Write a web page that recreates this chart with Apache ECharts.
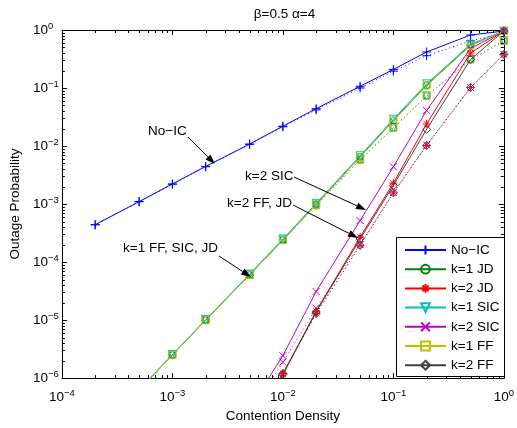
<!DOCTYPE html>
<html><head><meta charset="utf-8">
<script src="https://cdn.jsdelivr.net/npm/echarts@6/dist/echarts.min.js"></script>
<style>html,body{margin:0;padding:0;background:#fff}#c{width:517px;height:428px}</style>
</head><body><div id="c"></div>
<script>
// ---- data ----
const density = [2e-4, 5e-4, 1e-3, 2e-3, 5e-3, 1e-2, 2e-2, 5e-2, 0.1, 0.2, 0.5, 1];
const noIC        = [4.4e-4, 1.1e-3, 2.22e-3, 4.45e-3, 1.08e-2, 2.2e-2, 4.4e-2, 0.107, 0.209, 0.418, 0.82, 0.96];
const noICApprox  = [4.4e-4, 1.1e-3, 2.2e-3, 4.4e-3, 1.07e-2, 2.15e-2, 4.2e-2, 0.10, 0.195, 0.36, 0.65, 0.89];
const k1JD        = [null, 6.2e-7, 2.5e-6, 1.0e-5, 6.0e-5, 2.4e-4, 9.9e-4, 6.5e-3, 0.0276, 0.112, 0.55, 0.96];
const k1SIC       = [null, 6.4e-7, 2.55e-6, 1.02e-5, 6.2e-5, 2.5e-4, 1.03e-3, 6.8e-3, 0.029, 0.118, 0.57, 0.96];
const k1FF        = [null, 6.2e-7, 2.5e-6, 1.0e-5, 6.0e-5, 2.4e-4, 9.8e-4, 6.4e-3, 0.027, 0.11, 0.54, 0.96];
const k1Approx    = [null, 6.2e-7, 2.5e-6, 1.0e-5, 6.0e-5, 2.4e-4, 9.5e-4, 5.8e-3, 0.0205, 0.073, 0.31, 0.65];
const k2JD        = [null, null, null, null, 1.5e-7, 1.19e-6, 1.42e-5, 2.7e-4, 2.3e-3, 0.024, 0.40, 0.96];
const k2SIC       = [null, null, null, null, 3.0e-7, 2.44e-6, 3.1e-5, 5.2e-4, 4.4e-3, 0.041, 0.48, 0.96];
const k2FF        = [null, null, null, null, 1.4e-7, 1.15e-6, 1.38e-5, 2.5e-4, 2.1e-3, 0.0194, 0.31, 0.96];
const k2Approx    = [null, null, null, null, 1.5e-7, 1.2e-6, 1.3e-5, 1.94e-4, 1.56e-3, 0.0102, 0.102, 0.38];
const k2SICApprox = [null, null, null, null, 2.4e-7, 1.88e-6, 1.6e-5, 2.0e-4, 1.58e-3, 0.0104, 0.102, 0.38];
const legendNames = ['No\u2212IC', 'k=1 JD', 'k=2 JD', 'k=1 SIC', 'k=2 SIC', 'k=1 FF', 'k=2 FF'];
const titleText = '\u03b2=0.5 \u03b1=4';
const xName = 'Contention Density';
const yName = 'Outage Probability';

// ---- styling ----
const FONT = '"Liberation Sans", Arial, Helvetica, sans-serif';
const C = {blue:'#0000ff', green:'#008000', red:'#ff0000', cyan:'#00bfbf', mag:'#bf00bf', yel:'#bfbf00', gray:'#404040'};
const SYM = {
  plus:'path://M0,5L10,5M5,0L5,10',
  cross:'path://M0,0L10,10M10,0L0,10',
  star:'path://M0,5L10,5M5,0L5,10M1.6,1.6L8.4,8.4M8.4,1.6L1.6,8.4'
};

function pairs(ys){ const out=[]; ys.forEach((y,i)=>{ if(y!=null) out.push([density[i], y]); }); return out; }
function mk(name, ys, color, sym, size, dotted, rotate){
  return {type:'line', name:name, data:pairs(ys), symbol:sym, symbolSize:size, symbolRotate:rotate||0,
    showSymbol:true, lineStyle:{color:color, width:1, type: dotted ? [1,3] : 'solid'},
    itemStyle:{color:'rgba(0,0,0,0)', borderColor:color, borderWidth:1},
    emphasis:{disabled:true}, silent:true, clip:true, z: dotted ? 2 : 3};
}

const minorX = [], minorY = [];
for (let d=-4; d<0; d++) for (let m=2; m<=9; m++) minorX.push(m*Math.pow(10,d));
for (let d=-6; d<0; d++) for (let m=2; m<=9; m++) minorY.push(m*Math.pow(10,d));

function supLabel(v){
  const e = Math.round(Math.log10(v));
  return '{b|10}{e|' + String(e).replace('-', '\u2212') + '}';
}
const rich = {
  b:{fontSize:13.5, fontFamily:FONT, color:'#000', lineHeight:18, verticalAlign:'middle'},
  e:{fontSize:9.5, fontFamily:FONT, color:'#000', lineHeight:8, verticalAlign:'top'}
};
function xAx(pos, labels){
  return {type:'log', logBase:10, min:1e-4, max:1, splitNumber:4, position:pos,
    axisLine:{show:true, lineStyle:{color:'#000', width:1}},
    axisTick:{show:true, inside:true, length:5, lineStyle:{color:'#000'}},
    splitLine:{show:false}, minorTick:{show:false},
    axisLabel:{show:labels, margin:10, formatter:supLabel, rich:rich},
    name: labels ? xName : '', nameLocation:'middle', nameGap:25,
    nameTextStyle:{fontSize:13.5, fontFamily:FONT, color:'#000'}};
}
function yAx(pos, labels){
  return {type:'log', logBase:10, min:1e-6, max:1, splitNumber:6, position:pos,
    axisLine:{show:true, lineStyle:{color:'#000', width:1}},
    axisTick:{show:true, inside:true, length:5, lineStyle:{color:'#000'}},
    splitLine:{show:false}, minorTick:{show:false},
    axisLabel:{show:labels, margin:29, align:'left', formatter:supLabel, rich:rich},
    name: labels ? yName : '', nameLocation:'middle', nameGap:33, nameRotate:90,
    nameTextStyle:{fontSize:13.5, fontFamily:FONT, color:'#000'}};
}

const series = [
  mk('noIC-approx', noICApprox, C.blue, SYM.plus, 9, true),
  mk('k1JD-approx', k1Approx, C.green, 'circle', 7, true),
  mk('k2JD-approx', k2Approx, C.red, SYM.star, 8, true),
  mk('k1SIC-approx', k1Approx, C.cyan, 'triangle', 8, true, 180),
  mk('k2SIC-approx', k2SICApprox, C.mag, SYM.cross, 7, true),
  mk('k1FF-approx', k1Approx, C.yel, 'rect', 7, true),
  mk('k2FF-approx', k2Approx, C.gray, 'diamond', 8, true),
  mk(legendNames[0], noIC, C.blue, SYM.plus, 9, false),
  mk(legendNames[1], k1JD, C.green, 'circle', 7, false),
  mk(legendNames[2], k2JD, C.red, SYM.star, 8, false),
  mk(legendNames[3], k1SIC, C.cyan, 'triangle', 8, false, 180),
  mk(legendNames[4], k2SIC, C.mag, SYM.cross, 7, false),
  mk(legendNames[5], k1FF, C.yel, 'rect', 7, false),
  mk(legendNames[6], k2FF, C.gray, 'diamond', 8, false),
  {type:'custom', silent:true, z:5, data:minorX.map(v=>[v,1e-6]), renderItem:function(p, api){
    const v = api.value(0); const b = api.coord([v,1e-6]); const t = api.coord([v,1]);
    const x = Math.round(b[0]) + 0.5;
    return {type:'group', children:[
      {type:'line', shape:{x1:x, y1:b[1], x2:x, y2:b[1]-3}, style:{stroke:'#000', lineWidth:1}},
      {type:'line', shape:{x1:x, y1:t[1], x2:x, y2:t[1]+3}, style:{stroke:'#000', lineWidth:1}}]};
  }},
  {type:'custom', silent:true, z:5, data:minorY.map(v=>[1e-4,v]), renderItem:function(p, api){
    const v = api.value(1); const l = api.coord([1e-4,v]); const r = api.coord([1,v]);
    const y = Math.round(l[1]) + 0.5;
    return {type:'group', children:[
      {type:'line', shape:{x1:l[0], y1:y, x2:l[0]+3, y2:y}, style:{stroke:'#000', lineWidth:1}},
      {type:'line', shape:{x1:r[0], y1:y, x2:r[0]-3, y2:y}, style:{stroke:'#000', lineWidth:1}}]};
  }}
];

// ---- annotations ----
function arrow(x1,y1,x2,y2){
  const ang = Math.atan2(y2-y1, x2-x1), L = 10, W = 3.5;
  const bx = x2 - L*Math.cos(ang), by = y2 - L*Math.sin(ang);
  const px = -Math.sin(ang)*W, py = Math.cos(ang)*W;
  return [
    {type:'line', shape:{x1:x1,y1:y1,x2:bx,y2:by}, style:{stroke:'#000', lineWidth:1}, z:10},
    {type:'polygon', shape:{points:[[x2,y2],[bx+px,by+py],[bx-px,by-py]]}, style:{fill:'#000'}, z:10}
  ];
}
function txt(s, x, y, align){
  return {type:'text', x:x, y:y, z:10, style:{text:s, fill:'#000', font:'13.5px ' + FONT, align:align||'left', verticalAlign:'middle'}};
}
const graphics = [].concat(
  [txt(titleText, 284.5, 14.5, 'center')],
  [txt('No\u2212IC', 148, 131)], arrow(188,137,215,164),
  [txt('k=2 SIC', 245, 176)], arrow(294,177,366,210),
  [txt('k=2 FF, JD', 227, 203)], arrow(293,205,358,238),
  [txt('k=1 FF, SIC, JD', 123, 248)], arrow(219,256,251,277),
  [{type:'rect', shape:{x:396.5, y:237.5, width:108, height:139}, style:{fill:'#fff', stroke:'#000', lineWidth:1}, z:15}]
);

const chart = echarts.init(document.getElementById('c'), null, {renderer:'canvas'});
chart.setOption({
  animation:false,
  backgroundColor:'#fff',
  textStyle:{fontFamily:FONT},
  grid:{left:61, right:8, top:30, bottom:45, show:false},
  xAxis:[xAx('bottom', true), xAx('top', false)],
  yAxis:[yAx('left', true), yAx('right', false)],
  legend:{data:legendNames, orient:'vertical', left:396, top:237, itemWidth:41, itemHeight:11, itemGap:5.2,
    padding:[6,4,6,8], borderWidth:0, z:20,
    selectedMode:false, textStyle:{fontSize:13.5, fontFamily:FONT, color:'#000'}},
  series:series,
  graphic:graphics
});
</script></body></html>
